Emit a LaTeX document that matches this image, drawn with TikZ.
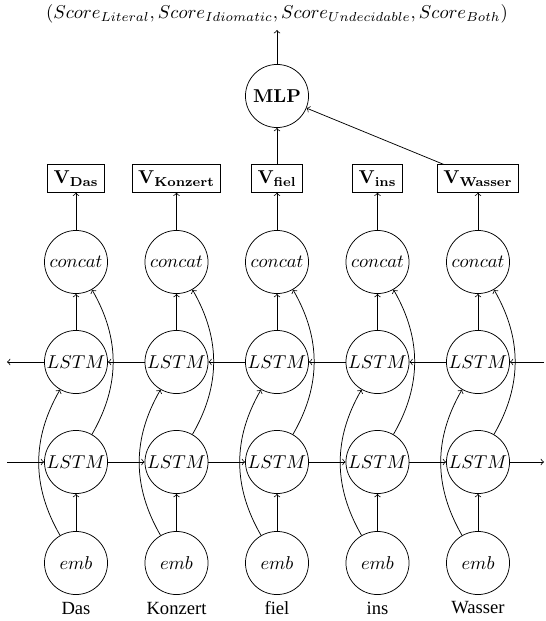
\documentclass[tikz,border=0pt]{standalone}
\usepackage[no-math]{fontspec}
\newfontfamily\timesfont{Liberation Serif}
\begin{document}
\begin{tikzpicture}[x=0.5376pt,y=-0.5376pt,
  unit/.style={circle,draw,minimum size=33.9pt,inner sep=0pt},
  vbox/.style={draw,rectangle,inner sep=3.2pt},
  word/.style={font=\timesfont,inner sep=1pt},
  conn/.style={->}]
\useasboundingbox (0,0) rectangle (546,621);
\foreach \w/\v [count=\n] in {Das/Das,Konzert/Konzert,fiel/fiel,ins/ins,Wasser/Wasser}{
  \pgfmathsetmacro{\xx}{76+100.5*(\n-1)}
  \node[unit] (emb\n) at (\xx,563) {$emb$};
  \node[word] (w\n) at (\xx,608) {\w};
  \node[unit] (lf\n) at (\xx,462) {$LSTM$};
  \node[unit] (lb\n) at (\xx,362) {$LSTM$};
  \node[unit] (cc\n) at (\xx,262) {$concat$};
  \node[vbox] (v\n) at (\xx,178.5) {$\mathbf{V_{\v}}$};
}
\node[unit] (mlp) at (277,96) {$\mathbf{MLP}$};
\node (title) at (277,14) {$(Score_{Literal}, Score_{Idiomatic}, Score_{Undecidable}, Score_{Both})$};
\coordinate (out) at (277,30);
\coordinate (fl) at (7,462);
\coordinate (fr) at (544,462);
\coordinate (bl) at (7,362);
\coordinate (br) at (544,362);
\draw[conn] (mlp) -- (out);
\draw[conn] (v3) -- (mlp);
\draw[conn] (v5) -- (mlp);
\draw[conn] (fl) -- (lf1);
\draw[conn] (lf5) -- (fr);
\draw[conn] (br) -- (lb5);
\draw[conn] (lb1) -- (bl);
\foreach \i/\j in {1/2,2/3,3/4,4/5}{
  \draw[conn] (lf\i) -- (lf\j);
  \draw[conn] (lb\j) -- (lb\i);
}
\foreach \n in {1,...,5}{
  \draw[conn] (emb\n) -- (lf\n);
  \draw[conn] (lb\n) -- (cc\n);
  \draw[conn] (cc\n) -- (v\n);
  \draw[conn] (emb\n) to[bend left=30] (lb\n);
  \draw[conn] (lf\n) to[bend right=30] (cc\n);
}
\end{tikzpicture}
\end{document}
